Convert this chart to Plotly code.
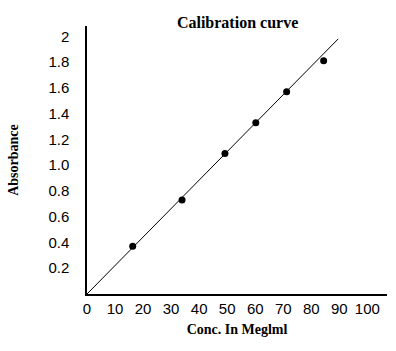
import plotly.graph_objects as go

# Data
conc = [16.3, 33.9, 49.2, 60.2, 71.2, 84.4]
absorbance = [0.37, 0.73, 1.09, 1.33, 1.57, 1.81]
fit_x = [0, 89.6]
fit_y = [0, 1.98]
x_ticks = [0, 10, 20, 30, 40, 50, 60, 70, 80, 90, 100]
y_ticks = [0.2, 0.4, 0.6, 0.8, 1.0, 1.2, 1.4, 1.6, 1.8, 2.0]
y_tick_text = ["0.2", "0.4", "0.6", "0.8", "1.0", "1.2", "1.4", "1.6", "1.8", "2"]

fig = go.Figure()
fig.add_trace(go.Scatter(x=fit_x, y=fit_y, mode="lines",
                         line=dict(color="black", width=1), showlegend=False))
fig.add_trace(go.Scatter(x=conc, y=absorbance, mode="markers",
                         marker=dict(color="black", size=7), showlegend=False))

serif = "Liberation Serif"
sans = "Liberation Sans"

fig.update_layout(
    width=396, height=351,
    margin=dict(l=87, r=9, t=26, b=57),
    paper_bgcolor="white", plot_bgcolor="white",
    title=dict(text="<b>Calibration curve</b>", x=0.6, xanchor="center",
               y=1 - 22 / 351, yanchor="middle",
               font=dict(family=serif, size=16, color="black")),
    xaxis=dict(range=[0, 107], tickvals=x_ticks, showgrid=False, zeroline=False,
               showline=True, linecolor="black", linewidth=1.5,
               ticks="", ticklabelstandoff=0,
               tickfont=dict(family=sans, size=15, color="black"),
               title=dict(text="<b>Conc. In Meglml</b>", standoff=8,
                          font=dict(family=serif, size=14, color="black"))),
    yaxis=dict(range=[0, 2.08], tickvals=y_ticks, ticktext=y_tick_text,
               showgrid=False, zeroline=False,
               showline=True, linecolor="black", linewidth=1.5,
               ticks="", ticklabelstandoff=13,
               tickfont=dict(family=sans, size=15, color="black"),
               title=dict(text="<b>Absorbance</b>", standoff=26,
                          font=dict(family=serif, size=14, color="black"))),
)

fig.write_html("out.html")
